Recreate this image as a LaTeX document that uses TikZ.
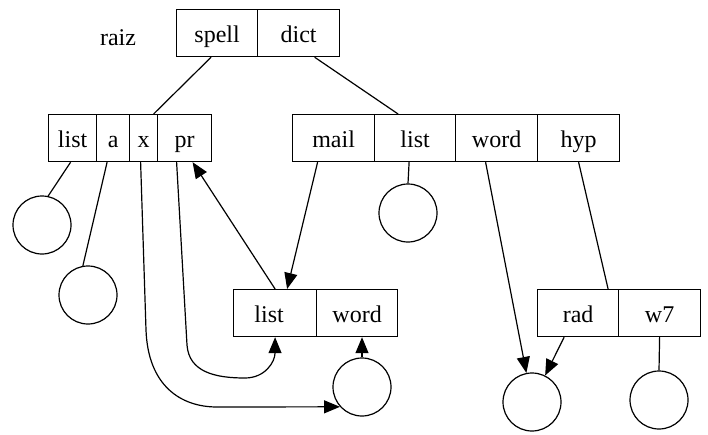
\documentclass[tikz,border=0pt]{standalone}
\usepackage{fontspec}
\setmainfont{Liberation Serif}
\usetikzlibrary{arrows.meta}
\begin{document}
\begin{tikzpicture}[x=1pt,y=-1pt,
  every node/.style={font=\fontsize{24}{26}\selectfont},
  cell/.style={draw, line width=1.2pt, anchor=north west, minimum height=47pt, inner sep=0pt, text height=20pt, text depth=1pt},
  ring/.style={draw, circle, line width=1.2pt, minimum size=58pt, inner sep=0pt},
  link/.style={line width=1.2pt},
  arr/.style={line width=1.2pt, -{Triangle[length=16pt,width=13pt]}}]
\useasboundingbox (0,0) rectangle (708,434);
% root
\node[anchor=base] (raiz) at (118,45) {raiz};
\node[cell, minimum width=81pt] (spell) at (176,9) {spell};
\node[cell, minimum width=82pt] (dict) at (257,9) {dict};
% left box
\node[cell, minimum width=48pt] (listA) at (48,114) {list};
\node[cell, minimum width=33pt] (a) at (96,114) {a};
\node[cell, minimum width=28pt] (x) at (129,114) {x};
\node[cell, minimum width=54pt] (pr) at (157,114) {pr};
% right box
\node[cell, minimum width=82pt] (mail) at (292,114) {mail};
\node[cell, minimum width=81pt] (listB) at (374,114) {list};
\node[cell, minimum width=82pt] (wordB) at (455,114) {word};
\node[cell, minimum width=82pt] (hyp) at (537,114) {hyp};
% lower middle box
\node[cell, minimum width=83pt] (listC) at (233,289) {list\kern12pt\relax};
\node[cell, minimum width=81pt] (wordC) at (316,289) {word};
% lower right box
\node[cell, minimum width=81pt] (rad) at (537,289) {rad};
\node[cell, minimum width=82pt] (w7) at (618,289) {w7};
% circles
\node[ring] (c1) at (42,225) {};
\node[ring] (c2) at (88,295) {};
\node[ring] (c3) at (408,213) {};
\node[ring] (c4) at (362,387) {};
\node[ring] (c5) at (532,402) {};
\node[ring] (c6) at (659,400) {};
% tree links
\draw[link] ([xshift=-6pt]spell.south) -- ([xshift=10pt]x.north);
\draw[link] ([xshift=16pt]dict.south) -- ([xshift=-17pt]listB.north);
\draw[link] ([xshift=-2pt]listA.south) -- (c1.78);
\draw[link] ([xshift=-6pt]a.south) -- (c2.100);
\draw[link] ([xshift=-6pt]listB.south) -- (c3.north);
\draw[link] (hyp.south) -- ([xshift=30pt]rad.north);
\draw[link] (w7.south) -- (c6.north);
% arrows
\draw[arr] ([xshift=-16pt]mail.south) -- ([xshift=12pt]listC.north);
\draw[arr] (listC.north) -- ([xshift=8pt]pr.south);
\draw[arr] ([xshift=-8pt]pr.south) -- (187,345) .. controls (189,372) and (215,378) .. (245,378) .. controls (265,378) and (275,362) .. (listC.south);
\draw[arr] ([xshift=-3pt]x.south) -- (146,330) .. controls (148,385) and (180,407) .. (217,407) -- (c4.222);
\draw[arr] (c4.north) -- (c4.north |- wordC.south);
\draw[arr] ([xshift=-11pt]wordB.south) -- (c5);
\draw[arr] ([xshift=-14pt]rad.south) -- (c5);
\end{tikzpicture}
\end{document}
